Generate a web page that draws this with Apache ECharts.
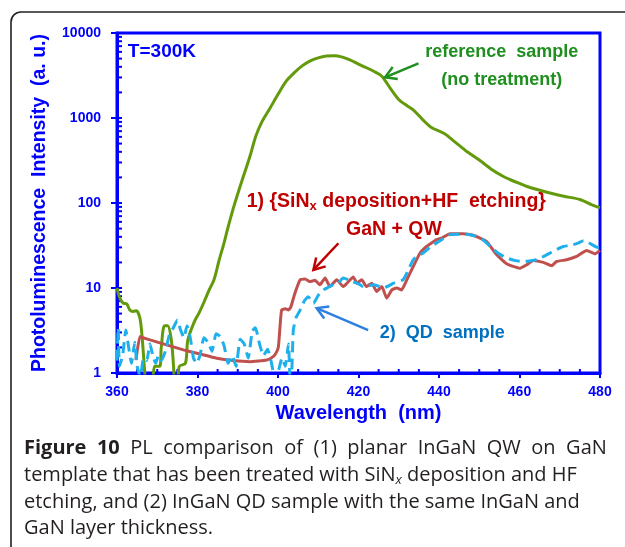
<!DOCTYPE html>
<html><head><meta charset="utf-8">
<script src="https://cdn.jsdelivr.net/npm/echarts@6/dist/echarts.min.js"></script>
<style>html,body{margin:0;padding:0;background:#fff}#c{width:625px;height:547px}</style>
</head><body><div id="c"></div>
<script>
// ---- data (wavelength nm, PL intensity a.u.) ----
const refWl = [360,360.7,361.6,362.4,363.2,364,364.8,365.7,366.3,366.9,367.5,368.5,369,369.4,370.6,371,371.8,372.6,373.5,374,374.5,375.1,375.5,377,377.6,379.2,380.4,381.6,382.9,384.1,385.4,386.6,387.4,389,391,393,394.5,396,398,400,402,404,406,408,410,412,414,416,418,420,422,424,425.8,428,430,432,433.6,436,438,441.5,444,447,450,453,456,457.6,460,463,467.6,471,475,478,480];
const refI  = [10,7.6,6.6,6.5,5.5,5.3,5.4,4.4,2.45,1.0,0.5,0.4,0.9,1.2,1.2,2,3.6,3.6,2.45,1.3,0.6,0.8,1.2,1.3,2.45,4.0,5.1,6.8,9.5,12.5,21.5,34,48,90,180,350,614,900,1300,1900,2700,3400,4100,4700,5100,5350,5400,5200,4800,4300,3900,3500,3100,2200,1650,1400,1250,950,780,650,520,400,320,250,205,189,170,150,131,120,110,95,88];

const qwWl = [364.7,365.7,366.5,368.2,372.3,376.5,380.6,384.8,388.9,393,397.2,398.8,399.6,400.1,400.5,400.9,401.8,402.6,403.2,404.2,405.5,406.7,407.9,409.2,410.4,411.7,412.9,414.6,416.2,417.5,418.7,419.6,420.8,422,423.3,424.5,425.8,427,428.3,429.5,430.7,432,433.6,435.3,436.9,438.2,439.4,440.8,442.7,446,448.5,451.8,454.3,456.8,460.1,461.8,463.4,465.9,468,469.2,471.7,474.2,476.7,478.8,480];
const qwI  = [1.42,2.68,2.6,2.45,2.14,1.87,1.67,1.49,1.40,1.36,1.42,1.56,1.75,2.04,3.5,5.5,5.7,5.5,6.0,8.7,12.5,12.8,11.9,12.3,10.9,13.1,10.4,12.5,10.4,11.9,13.5,11.4,12.5,10.4,11.4,9.1,10.4,7.6,9.5,10,9.5,12.5,17.9,25.8,30.8,34,37,39,43.6,43.6,41.7,35.4,24.7,19.3,17.1,18.8,21.1,20,18.3,20.5,21.5,23.5,27.7,25.3,27.7];

const qdWl = [360,360.3,360.6,361.4,362.2,362.9,363.6,364.4,365,365.8,366.6,367.4,368.2,368.9,369.6,370.3,371,372,373,374,375,375.8,376.6,377.4,378.2,379,379.8,380.6,381.6,382.6,383.6,384.6,385.6,386.6,387.6,388.6,389.6,390.6,391.6,392.6,393.6,394.4,395.4,396.4,397.4,398.4,399.3,400.2,401,401.8,402.6,403,403.4,403.8,404.5,405.5,406.5,407.5,408.2,408.8,410,411.3,412.5,413.7,415,416.2,417.5,418.7,420,421.2,422.5,423.7,425,426.2,427.5,428.7,430,431.1,432.3,433.6,434.8,436.1,437.7,439.4,441,442.7,444.5,446.8,448.8,450.9,452.7,454.5,456.8,459,461,462.5,464.3,466,467.6,469.3,470.9,472.2,473.4,474.7,475.9,477,478,479,480];
const qdI  = [1.4,3.4,1.2,1.6,3.2,2.0,1.3,2.3,1.2,0.9,1.5,1.4,2.2,1.6,1.3,1.6,1.4,1.8,2.8,3.4,4.2,3.2,2.6,3.6,2.6,1.5,1.3,1.6,2.6,2.3,1.8,2.9,2.7,2.1,1.3,1.6,1.2,2.5,2.2,1.5,3.1,3.4,2.2,1.6,1.9,1.3,0.8,1.1,1.5,1.2,2.2,0.9,1.0,3.2,4.5,5.5,7.0,7.9,7.2,6.6,8.2,9.5,10.2,10.9,11.5,13.1,12.5,11.8,11.2,10.4,10.6,10.9,10.5,10.0,10.6,11.4,12.0,12.5,16,21.5,24,25.8,30,33.9,38,42.4,43,43,41,37,31,26,22.6,21,20.5,20.8,21.5,23.5,25.8,28.5,30.8,31.5,32.4,34,36,34.5,32.4,30.5,29.5];

const xTickLabels = [360,380,400,420,440,460,480];
const yTickLabels = [1,10,100,1000,10000];

const AX = '#0000FF';
const FONT = 'Liberation Sans, Arial, sans-serif';
const chart = echarts.init(document.getElementById('c'), null, {renderer:'canvas'});
const zip = (a,b)=>a.map((v,i)=>[v,b[i]]);

chart.setOption({
  animation:false,
  backgroundColor:'#fff',
  grid:{left:117,right:25,top:33,bottom:174,show:true,borderColor:AX,borderWidth:3,backgroundColor:'transparent'},
  xAxis:{type:'value',min:xTickLabels[0],max:xTickLabels[xTickLabels.length-1],interval:20,
    name:'Wavelength  (nm)',nameLocation:'middle',nameGap:29,
    nameTextStyle:{color:AX,fontWeight:'bold',fontSize:20,fontFamily:FONT},
    axisLine:{lineStyle:{color:AX,width:3}},
    axisTick:{show:true,length:5,lineStyle:{color:AX,width:2}},
    axisLabel:{color:AX,fontWeight:'bold',fontSize:14,fontFamily:FONT,margin:12},
    splitLine:{show:false}},
  yAxis:{type:'log',logBase:10,min:yTickLabels[0],max:yTickLabels[yTickLabels.length-1],
    name:'Photoluminescence  Intensity  (a. u.)',nameLocation:'middle',nameGap:67,
    nameTextStyle:{color:AX,fontWeight:'bold',fontSize:19.5,fontFamily:FONT},
    axisLine:{lineStyle:{color:AX,width:3}},
    axisTick:{show:true,length:6,lineStyle:{color:AX,width:2}},
    axisLabel:{color:AX,fontWeight:'bold',fontSize:14,fontFamily:FONT,margin:16,formatter:v=>String(Math.round(v))},
    splitLine:{show:false}},
  series:[
    {type:'line',name:'reference',data:zip(refWl,refI),showSymbol:false,smooth:0.3,clip:true,
      lineStyle:{color:'#639A0C',width:3},z:3},
    {type:'line',name:'QW',data:zip(qwWl,qwI),showSymbol:false,smooth:0.15,clip:true,
      lineStyle:{color:'#C0504D',width:3},z:4},
    {type:'line',name:'QD',data:zip(qdWl,qdI),showSymbol:false,smooth:0.15,clip:true,
      lineStyle:{color:'#1EB0EC',width:3,type:[11,6]},z:5}
  ]
});

function px(x,y){return chart.convertToPixel({gridIndex:0},[x,y]);}
const els = [];
// frame
els.push({type:'rect',shape:{x:11,y:12,width:720,height:620,r:10},style:{fill:'none',stroke:'#222',lineWidth:1.6},z:-10});
// minor ticks x (inside, every 5 nm)
for(let w=365; w<480; w+=5){ if(w%20===0) continue; const p=px(w,1);
  els.push({type:'line',shape:{x1:p[0],y1:p[1],x2:p[0],y2:p[1]-4},style:{stroke:AX,lineWidth:2}}); }
// minor ticks y (inside, log-spaced)
for(let d=1; d<10000; d*=10){ for(let k=2;k<=9;k++){ const p=px(360,d*k);
  els.push({type:'line',shape:{x1:p[0],y1:p[1],x2:p[0]+5,y2:p[1]},style:{stroke:AX,lineWidth:2}}); } }
for(let d=1; d<=10000; d*=10){ const p=px(360,d);
  els.push({type:'line',shape:{x1:p[0],y1:p[1],x2:p[0]+5,y2:p[1]},style:{stroke:AX,lineWidth:2}}); }
// texts
function txt(pos,text,color,align,size,extra){const p=px(pos[0],pos[1]);
  return Object.assign({type:'text',x:p[0],y:p[1],style:Object.assign({text:text,fill:color,font:'bold '+size+'px '+FONT,
    textAlign:align,textVerticalAlign:'middle'},extra||{}),z:20});}
els.push(txt([362.7,5970],'T=300K',AX,'left',19));
els.push(txt([455.6,5970],'reference  sample','#1F8F1F','center',18));
els.push(txt([455.6,2800],'(no treatment)','#1F8F1F','center',18));
els.push(txt([429.4,103],'{r|1) {SiN}{s|x}{r| deposition+HF  etching}}','#C00000','center',19.5,
  {rich:{r:{fill:'#C00000',fontWeight:'bold',fontSize:19.5,fontFamily:FONT},
         s:{fill:'#C00000',fontWeight:'bold',fontSize:13,fontFamily:FONT,padding:[9,0,0,0]}}}));
els.push(txt([428.8,48],'GaN + QW','#C00000','center',19.5));
els.push(txt([425.3,2.95],'2)  QD  sample','#0070C0','left',18));
// arrows
function arrow(tail,tip,color){const a=px(tail[0],tail[1]),b=px(tip[0],tip[1]);
  const dx=b[0]-a[0],dy=b[1]-a[1],L=Math.hypot(dx,dy),ux=dx/L,uy=dy/L,h=11,w=6.5;
  const p1=[b[0]-ux*h-uy*w,b[1]-uy*h+ux*w],p2=[b[0]-ux*h+uy*w,b[1]-uy*h-ux*w];
  els.push({type:'line',shape:{x1:a[0],y1:a[1],x2:b[0],y2:b[1]},style:{stroke:color,lineWidth:2.5},z:20});
  els.push({type:'polyline',shape:{points:[p1,b,p2]},style:{stroke:color,lineWidth:2.5,fill:null},z:20});}
arrow([434.9,4400],[426.6,3010],'#1F8F1F');
arrow([415,33.6],[408.8,16.3],'#C00000');
arrow([422.4,3.2],[409.6,5.8],'#2E7FE0');
// caption
const CF = '"Open Sans", "Noto Sans", sans-serif';
const CS = 20;
const capRich = {n:{fontSize:CS,fontFamily:CF,fill:'#231F20'},b:{fontSize:CS,fontFamily:CF,fontWeight:'bold',fill:'#231F20'},
  sp:{fontSize:CS,fontFamily:CF,width:10.5},
  s:{fontSize:13,fontFamily:CF,fontStyle:'italic',fill:'#231F20',padding:[10,0,0,0]}};
const line1 = 'PL comparison of (1) planar InGaN QW on GaN'.split(' ').map(w=>'{n|'+w+'}').join('{sp| }');
const capLines = ['{b|Figure}{sp| }{b|10}{sp| }'+line1,
  '{n|template that has been treated with SiN}{s|x}{n| deposition and HF}',
  '{n|etching, and (2) InGaN QD sample with the same InGaN and}',
  '{n|GaN layer thickness.}'];
const capY = [448,475,502,528];
capLines.forEach((t,i)=>els.push({type:'text',x:24,y:capY[i],style:{text:t,rich:capRich,textVerticalAlign:'middle',fill:'#231F20',font:CS+'px '+CF},z:20}));
chart.setOption({graphic:{elements:els}});
</script></body></html>
